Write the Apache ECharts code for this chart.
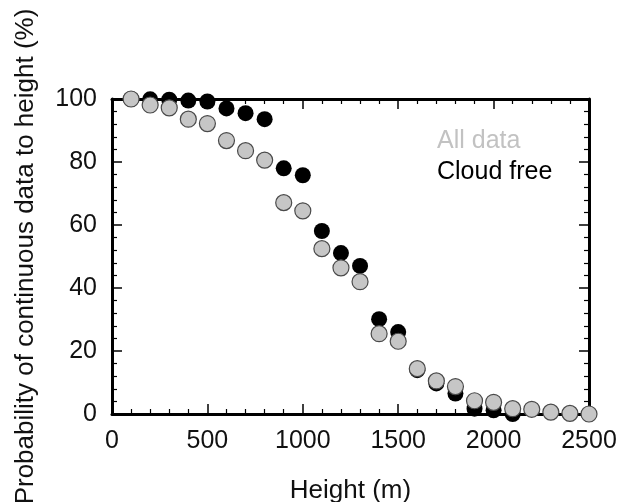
<!DOCTYPE html>
<html>
<head>
<meta charset="utf-8">
<script src="https://cdn.jsdelivr.net/npm/echarts@6/dist/echarts.min.js"></script>
<style>
  html, body { margin: 0; padding: 0; background: #fff; }
  #chart { width: 618px; height: 502px; }
</style>
</head>
<body>
<div id="chart"></div>
<script>
// heights (m) where the probability was sampled
const heights = [100, 200, 300, 400, 500, 600, 700, 800, 900, 1000, 1100, 1200, 1300,
  1400, 1500, 1600, 1700, 1800, 1900, 2000, 2100, 2200, 2300, 2400, 2500]
// probability of continuous data (%) - all data
const allData = [100, 98.1, 97.2, 93.6, 92.2, 86.8, 83.6, 80.6, 67.1, 64.5, 52.5, 46.4, 42.0,
  25.5, 23.1, 14.4, 10.5, 8.7, 4.2, 3.7, 1.7, 1.5, 0.6, 0.2, 0]
// cloud free subset (stops at 2100 m)
const cloudFree = [100, 99.9, 99.8, 99.5, 99.2, 97.0, 95.5, 93.6, 78.0, 75.8, 58.1, 51.1, 47.0,
  30.1, 26.0, 13.9, 9.7, 6.5, 1.7, 1.2, 0]
const xTicks = [0, 500, 1000, 1500, 2000, 2500]
const yTicks = [0, 20, 40, 60, 80, 100]

const font = 'Liberation Sans, Arial, sans-serif'
const chart = echarts.init(document.getElementById('chart'))

const axisBase = (pos, ticks, show) => ({
  type: 'value',
  position: pos,
  min: ticks[0],
  max: ticks[ticks.length - 1],
  interval: ticks[1] - ticks[0],
  axisLine: { show: true, onZero: false, lineStyle: { color: '#000', width: 3 } },
  axisTick: { show: true, inside: true, length: 10, lineStyle: { color: '#000', width: 1.5 } },
  minorTick: { show: true, splitNumber: 5, length: 5, lineStyle: { color: '#000', width: 1.2 } },
  splitLine: { show: false },
  axisLabel: {
    show: show, color: '#111', fontSize: 25, fontFamily: font, margin: 15,
    formatter: v => String(v)
  }
})

const option = {
  animation: false,
  grid: { left: 112, right: 29, top: 99, bottom: 88, outerBoundsMode: 'none' },
  legend: {
    orient: 'vertical',
    left: 427,
    top: 124,
    icon: 'none',
    itemWidth: 0,
    itemGap: 6,
    selectedMode: false,
    textStyle: { fontSize: 25, fontFamily: font },
    data: [
      { name: 'All data', textStyle: { color: '#c2c2c2' } },
      { name: 'Cloud free', textStyle: { color: '#000' } }
    ]
  },
  xAxis: [
    Object.assign(axisBase('bottom', xTicks, true), {
      name: 'Height (m)',
      nameLocation: 'middle',
      nameGap: 64,
      nameTextStyle: { color: '#111', fontSize: 26, fontFamily: font }
    }),
    axisBase('top', xTicks, false)
  ],
  yAxis: [
    Object.assign(axisBase('left', yTicks, true), {
      name: 'Probability of continuous data to height (%)',
      nameLocation: 'middle',
      nameGap: 73,
      nameTextStyle: { color: '#111', fontSize: 26, fontFamily: font }
    }),
    axisBase('right', yTicks, false)
  ],
  series: [{
    name: 'Cloud free',
    type: 'scatter',
    clip: false,
    symbolSize: 16,
    itemStyle: { color: '#000', opacity: 1 },
    data: cloudFree.map((v, i) => [heights[i], v])
  }, {
    name: 'All data',
    type: 'scatter',
    clip: false,
    symbolSize: 16,
    itemStyle: { color: '#c6c6c6', borderColor: '#4a4a4a', borderWidth: 1.2, opacity: 1 },
    data: allData.map((v, i) => [heights[i], v])
  }]
}
chart.setOption(option)
</script>
</body>
</html>
